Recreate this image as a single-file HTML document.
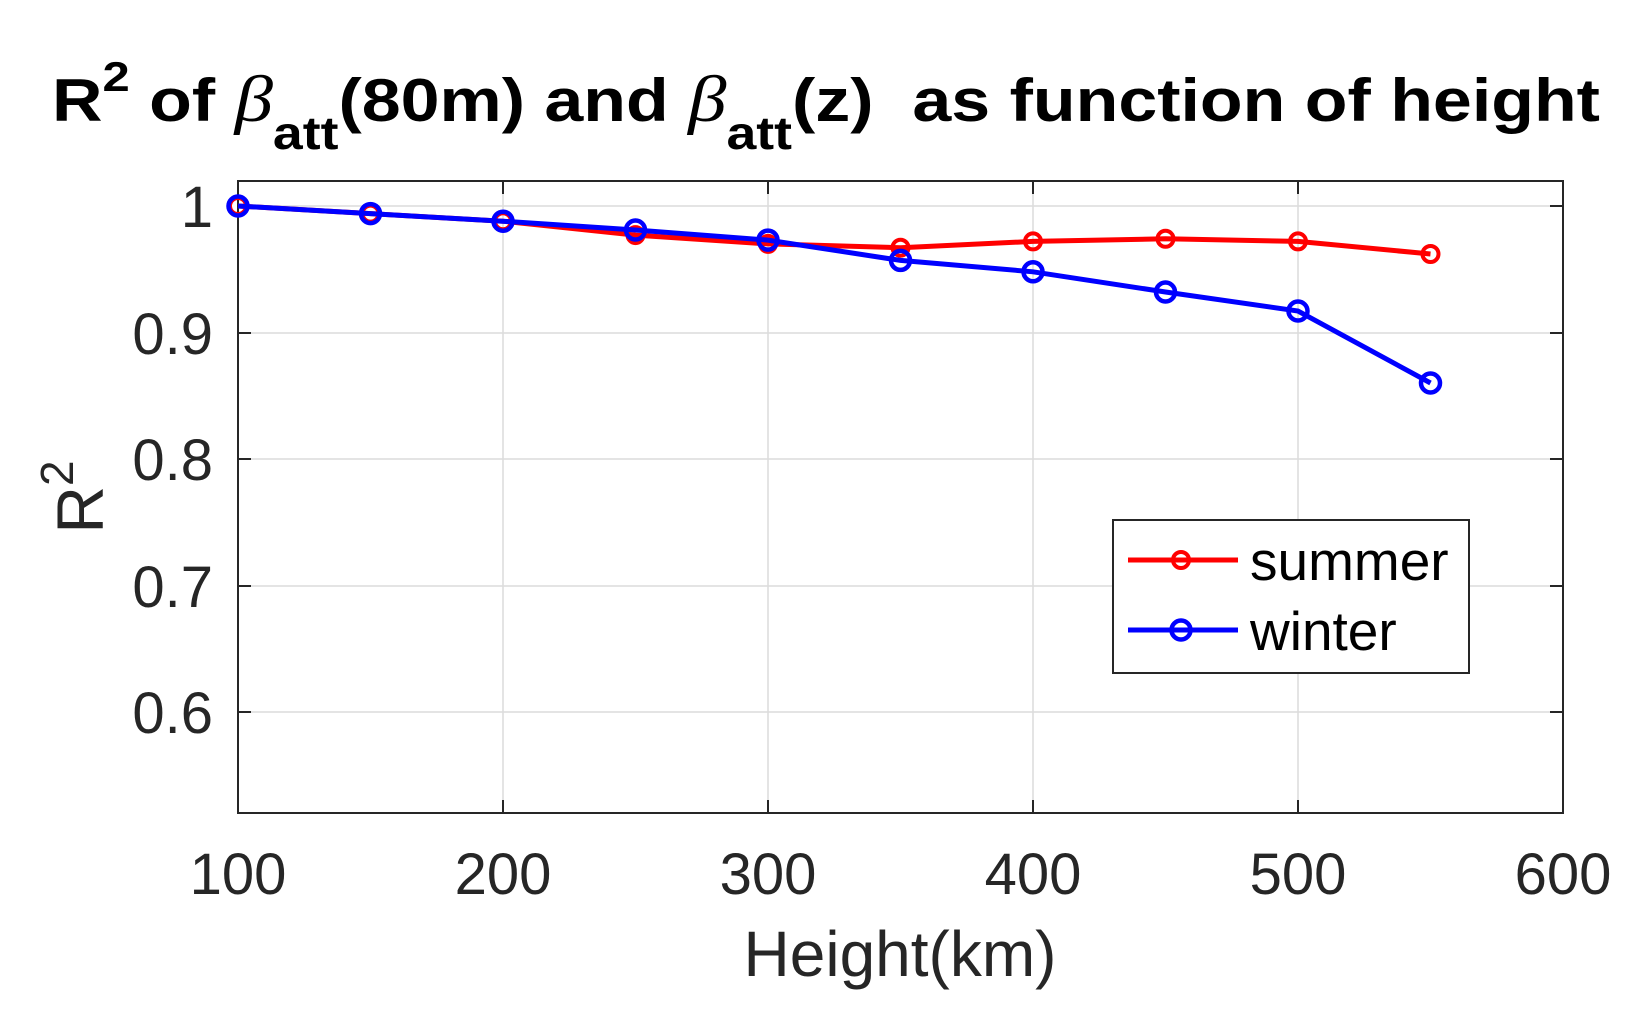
<!DOCTYPE html>
<html><head><meta charset="utf-8"><style>
html,body{margin:0;padding:0;background:#fff;}
svg{display:block;}
</style></head><body>
<svg width="1640" height="1013" viewBox="0 0 1640 1013" xmlns="http://www.w3.org/2000/svg" font-family="Liberation Sans, Arial, sans-serif">
<rect width="1640" height="1013" fill="#fff"/>
<!-- title -->
<text x="52" y="121" font-size="60" font-weight="bold" fill="#000" textLength="1548" lengthAdjust="spacingAndGlyphs">R<tspan font-size="42" dy="-30">2</tspan><tspan dy="30"> of </tspan><tspan font-family="Liberation Serif, serif" font-style="italic" font-weight="normal" font-size="66">β</tspan><tspan font-size="46" dy="28">att</tspan><tspan dy="-28">(80m) and </tspan><tspan font-family="Liberation Serif, serif" font-style="italic" font-weight="normal" font-size="66">β</tspan><tspan font-size="46" dy="28">att</tspan><tspan dy="-28">(z)&#160;&#160;as function of height</tspan></text>
<!-- grid -->
<g stroke="#dcdcdc" stroke-width="1.5">
<line x1="503" y1="181" x2="503" y2="813"/>
<line x1="768" y1="181" x2="768" y2="813"/>
<line x1="1033" y1="181" x2="1033" y2="813"/>
<line x1="1298" y1="181" x2="1298" y2="813"/>
<line x1="238" y1="206" x2="1563" y2="206"/>
<line x1="238" y1="333" x2="1563" y2="333"/>
<line x1="238" y1="459" x2="1563" y2="459"/>
<line x1="238" y1="586" x2="1563" y2="586"/>
<line x1="238" y1="712" x2="1563" y2="712"/>
</g>
<!-- ticks -->
<g stroke="#262626" stroke-width="2">
<line x1="503" y1="813" x2="503" y2="800"/><line x1="768" y1="813" x2="768" y2="800"/><line x1="1033" y1="813" x2="1033" y2="800"/><line x1="1298" y1="813" x2="1298" y2="800"/>
<line x1="503" y1="181" x2="503" y2="194"/><line x1="768" y1="181" x2="768" y2="194"/><line x1="1033" y1="181" x2="1033" y2="194"/><line x1="1298" y1="181" x2="1298" y2="194"/>
<line x1="238" y1="206" x2="251" y2="206"/><line x1="238" y1="333" x2="251" y2="333"/><line x1="238" y1="459" x2="251" y2="459"/><line x1="238" y1="586" x2="251" y2="586"/><line x1="238" y1="712" x2="251" y2="712"/>
<line x1="1563" y1="206" x2="1550" y2="206"/><line x1="1563" y1="333" x2="1550" y2="333"/><line x1="1563" y1="459" x2="1550" y2="459"/><line x1="1563" y1="586" x2="1550" y2="586"/><line x1="1563" y1="712" x2="1550" y2="712"/>
</g>
<rect x="238" y="181" width="1325" height="632" fill="none" stroke="#262626" stroke-width="2"/>
<!-- tick labels -->
<g font-size="58" fill="#262626" text-anchor="end">
<text x="213" y="227">1</text>
<text x="213" y="354">0.9</text>
<text x="213" y="480">0.8</text>
<text x="213" y="607">0.7</text>
<text x="213" y="733">0.6</text>
</g>
<g font-size="58" fill="#262626" text-anchor="middle">
<text x="238" y="894">100</text>
<text x="503" y="894">200</text>
<text x="768" y="894">300</text>
<text x="1033" y="894">400</text>
<text x="1298" y="894">500</text>
<text x="1563" y="894">600</text>
</g>
<text x="900" y="976" font-size="64" fill="#262626" text-anchor="middle">Height(km)</text>
<text transform="translate(103,497) rotate(-90)" font-size="66" fill="#262626" text-anchor="middle">R<tspan font-size="46" dy="-30">2</tspan></text>
<!-- series -->
<g fill="none" stroke-width="5">
<polyline stroke="#ff0000" points="238,206 370.5,213.6 503,221.2 635.5,235.1 768,243.9 900.5,247.7 1033,241.4 1165.5,238.8 1298,241.4 1430.5,254"/>
<g stroke="#ff0000" stroke-width="4">
<circle cx="238" cy="206" r="8"/><circle cx="370.5" cy="213.6" r="8"/><circle cx="503" cy="221.2" r="8"/><circle cx="635.5" cy="235.1" r="8"/><circle cx="768" cy="243.9" r="8"/><circle cx="900.5" cy="247.7" r="8"/><circle cx="1033" cy="241.4" r="8"/><circle cx="1165.5" cy="238.8" r="8"/><circle cx="1298" cy="241.4" r="8"/><circle cx="1430.5" cy="254" r="8"/>
</g>
<polyline stroke="#0000ff" points="238,206 370.5,213.6 503,221.2 635.5,230.0 768,240.1 900.5,260.4 1033,271.8 1165.5,292 1298,311 1430.5,383"/>
<g stroke="#0000ff" stroke-width="4.5">
<circle cx="238" cy="206" r="9.5"/><circle cx="370.5" cy="213.6" r="9.5"/><circle cx="503" cy="221.2" r="9.5"/><circle cx="635.5" cy="230" r="9.5"/><circle cx="768" cy="240.1" r="9.5"/><circle cx="900.5" cy="260.4" r="9.5"/><circle cx="1033" cy="271.8" r="9.5"/><circle cx="1165.5" cy="292" r="9.5"/><circle cx="1298" cy="311" r="9.5"/><circle cx="1430.5" cy="383" r="9.5"/>
</g>
</g>
<!-- legend -->
<rect x="1113" y="520" width="356" height="153" fill="#fff" stroke="#262626" stroke-width="2"/>
<line x1="1128" y1="560" x2="1238" y2="560" stroke="#ff0000" stroke-width="5"/>
<circle cx="1181" cy="560" r="8" fill="none" stroke="#ff0000" stroke-width="4"/>
<line x1="1128" y1="630" x2="1238" y2="630" stroke="#0000ff" stroke-width="5"/>
<circle cx="1181" cy="630" r="9.5" fill="none" stroke="#0000ff" stroke-width="4.5"/>
<text x="1250" y="580" font-size="55" fill="#000">summer</text>
<text x="1250" y="650" font-size="55" fill="#000">winter</text>
</svg>
</body></html>
